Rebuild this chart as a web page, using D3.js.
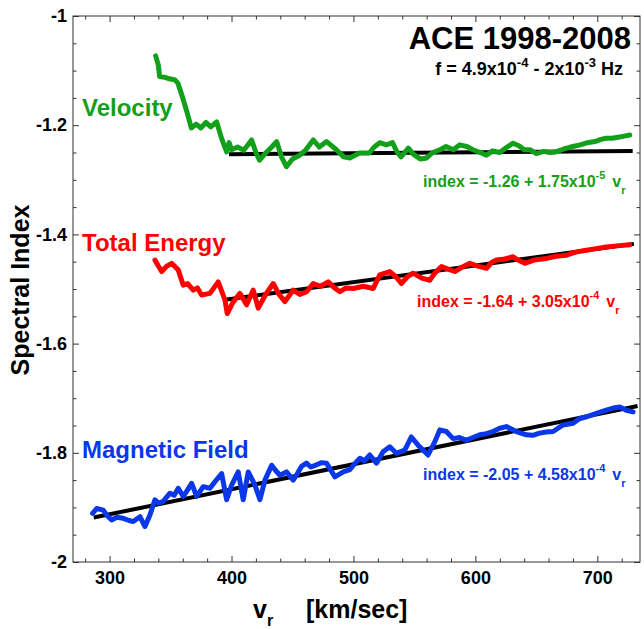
<!DOCTYPE html>
<html>
<head>
<meta charset="utf-8">
<script src="https://cdn.jsdelivr.net/npm/d3@7"></script>
<style>
  body { margin: 0; background: #fff; }
  text { font-family: "Liberation Sans", Arial, Helvetica, sans-serif; font-weight: bold; }
</style>
</head>
<body>
<script>
// ---- data: [v_r (km/sec), spectral index] ----
var velocity = [
  [337.8,-1.073],[340,-1.09],[341,-1.111],[345,-1.112],[349,-1.115],[353.6,-1.117],[356,-1.123],
  [360,-1.15],[364,-1.18],[367,-1.205],[371,-1.198],[375,-1.205],[379,-1.195],[383,-1.203],
  [387.8,-1.194],[392,-1.225],[396,-1.249],[398,-1.232],[400,-1.245],[405,-1.24],[410,-1.246],
  [416.5,-1.227],[420,-1.25],[423,-1.264],[428.8,-1.249],[433,-1.24],[437,-1.23],[441,-1.258],
  [445,-1.276],[450,-1.262],[456,-1.255],[461,-1.245],[467,-1.227],[472,-1.24],[478,-1.23],
  [486,-1.245],[492,-1.258],[497,-1.26],[505,-1.251],[513,-1.251],[517,-1.24],[521.6,-1.232],
  [527,-1.236],[532,-1.232],[536,-1.25],[539,-1.258],[545,-1.242],[549,-1.253],[555,-1.262],
  [560,-1.26],[565,-1.25],[571,-1.245],[576,-1.239],[582,-1.245],[587,-1.236],[593,-1.239],
  [598,-1.245],[604,-1.25],[609,-1.255],[614,-1.247],[620,-1.25],[626,-1.24],[631,-1.233],
  [636,-1.238],[640,-1.245],[645,-1.245],[650,-1.252],[656,-1.248],[661,-1.25],[666,-1.249],
  [672,-1.244],[678,-1.24],[686,-1.236],[692,-1.232],[698,-1.23],[703,-1.226],[707,-1.224],
  [712,-1.224],[717,-1.222],[722,-1.22],[726.6,-1.218]
];
var energy = [
  [337.2,-1.447],[340,-1.458],[342.7,-1.468],[347,-1.458],[350.9,-1.453],[356.3,-1.465],
  [360.4,-1.493],[364,-1.49],[368.6,-1.502],[372,-1.498],[375.5,-1.511],[382.3,-1.508],
  [389.1,-1.487],[394.6,-1.52],[396.5,-1.545],[401,-1.525],[406.9,-1.508],[412.4,-1.529],
  [417.8,-1.502],[421.9,-1.535],[428,-1.51],[434.2,-1.49],[439,-1.51],[443.8,-1.523],
  [450.6,-1.502],[456,-1.51],[461.6,-1.505],[467,-1.49],[473,-1.495],[479.3,-1.487],
  [484,-1.497],[488.9,-1.505],[494,-1.498],[499.8,-1.499],[508,-1.495],[516.2,-1.499],
  [521.6,-1.474],[529.8,-1.468],[535,-1.478],[539.3,-1.49],[544,-1.478],[548.9,-1.471],
  [556,-1.48],[562.6,-1.484],[567,-1.47],[572.2,-1.459],[577,-1.463],[583.1,-1.468],
  [589,-1.46],[595.4,-1.453],[602,-1.458],[609.1,-1.462],[613,-1.452],[617.2,-1.447],
  [624,-1.445],[630.9,-1.441],[635,-1.447],[640.5,-1.453],[648,-1.447],[658.3,-1.444],
  [666,-1.44],[674.6,-1.438],[683,-1.432],[691,-1.429],[699,-1.426],[707.4,-1.423],
  [716,-1.421],[726.6,-1.419]
];
var magnetic = [
  [286.1,-1.911],[289.4,-1.902],[294.8,-1.905],[298,-1.915],[301.7,-1.923],[306,-1.918],
  [311.2,-1.92],[316,-1.924],[319.4,-1.926],[324.9,-1.917],[329,-1.935],[333.1,-1.914],
  [337.2,-1.886],[340,-1.892],[344,-1.889],[349.5,-1.874],[353,-1.878],[356.3,-1.865],
  [360.4,-1.88],[364,-1.868],[367.3,-1.856],[371.4,-1.88],[376.8,-1.862],[382.3,-1.865],
  [386.4,-1.853],[391.9,-1.838],[396,-1.886],[400.1,-1.859],[405.5,-1.835],[409.6,-1.886],
  [413.7,-1.835],[419.2,-1.859],[423.3,-1.886],[427.4,-1.85],[432.9,-1.823],[436,-1.832],
  [439.7,-1.841],[445.1,-1.835],[450.6,-1.85],[454,-1.838],[457.4,-1.825],[461.5,-1.819],
  [465,-1.826],[469.7,-1.822],[474,-1.818],[477.9,-1.819],[484.8,-1.844],[491.6,-1.835],
  [497,-1.831],[501,-1.82],[505.3,-1.81],[509,-1.815],[513.4,-1.804],[518.9,-1.819],
  [524.3,-1.798],[529.8,-1.789],[535.2,-1.801],[542.1,-1.795],[547.5,-1.771],[553,-1.786],
  [557,-1.795],[561.2,-1.804],[566.7,-1.78],[570.8,-1.758],[576.2,-1.761],[581.7,-1.774],
  [587,-1.772],[592.6,-1.777],[598,-1.772],[603.6,-1.767],[609,-1.765],[614.5,-1.761],
  [620,-1.755],[625.4,-1.752],[633.6,-1.761],[641.9,-1.767],[647,-1.768],[652.8,-1.764],
  [658,-1.762],[663.7,-1.761],[671.9,-1.749],[680.1,-1.746],[685,-1.738],[691,-1.734],
  [699.2,-1.728],[707.4,-1.722],[713,-1.718],[718.4,-1.716],[723.8,-1.722],[729.3,-1.725]
];
// linear fits: index = a + b * v, drawn over [from, to]
var fitNames = ["Velocity", "Total Energy", "Magnetic Field"];
var fitA = [-1.26, -1.64, -2.05];
var fitB = [1.75e-5, 3.05e-4, 4.58e-4];
var fitFrom = [398, 396, 287];
var fitTo = [729, 730, 733];
var fitLabels = [["-1.26", "1.75", "-5"], ["-1.64", "3.05", "-4"], ["-2.05", "4.58", "-4"]];

var xMajor = [300, 400, 500, 600, 700];
var yMajor = [-2, -1.8, -1.6, -1.4, -1.2, -1];
var yTickLabels = ["-2", "-1.8", "-1.6", "-1.4", "-1.2", "-1"];

var colors = ["#12a01a", "#ff0000", "#0a38e8"];

var svg = d3.select("body").append("svg")
  .attr("width", 644)
  .attr("height", 629);

var margin = {top: 16, right: 4, bottom: 67, left: 73},
  width = 644 - margin.left - margin.right,
  height = 629 - margin.top - margin.bottom,
  g = svg.append("g").attr("transform", "translate(" + margin.left + "," + margin.top + ")");

var x = d3.scaleLinear().domain([270, 735]).range([0, width]);
var y = d3.scaleLinear().domain([-2, -1]).range([height, 0]);

var xMinor = d3.range(280, 735, 20).filter(function(d) { return d % 100 != 0; });
var yMinor = d3.range(-1.95, -1, 0.05).filter(function(d) { return Math.abs(d * 5 - Math.round(d * 5)) > 1e-6; });

function styleAxis(sel) {
  sel.select(".domain").remove();
  sel.selectAll("line").attr("stroke", "#333").attr("stroke-width", 1);
  sel.selectAll("text").attr("font-size", 18).attr("fill", "#000")
    .style("font-family", "'Liberation Sans', Arial, sans-serif").style("font-weight", "bold");
}

// bottom + left with labels, ticks inside
g.append("g").attr("transform", "translate(0," + height + ")")
  .call(d3.axisBottom(x).tickValues(xMajor).tickSize(-6).tickPadding(9).tickFormat(d3.format("d")))
  .call(styleAxis);
g.append("g").attr("transform", "translate(0," + height + ")")
  .call(d3.axisBottom(x).tickValues(xMinor).tickSize(-3.5).tickFormat(""))
  .call(styleAxis);
g.append("g")
  .call(d3.axisLeft(y).tickValues(yMajor).tickSize(-6).tickPadding(6)
    .tickFormat(function(d, i) { return yTickLabels[i]; }))
  .call(styleAxis);
g.append("g")
  .call(d3.axisLeft(y).tickValues(yMinor).tickSize(-3.5).tickFormat(""))
  .call(styleAxis);
// top + right mirrored ticks
g.append("g").call(d3.axisTop(x).tickValues(xMajor).tickSize(-6).tickFormat("")).call(styleAxis);
g.append("g").call(d3.axisTop(x).tickValues(xMinor).tickSize(-3.5).tickFormat("")).call(styleAxis);
g.append("g").attr("transform", "translate(" + width + ",0)")
  .call(d3.axisRight(y).tickValues(yMajor).tickSize(-6).tickFormat("")).call(styleAxis);
g.append("g").attr("transform", "translate(" + width + ",0)")
  .call(d3.axisRight(y).tickValues(yMinor).tickSize(-3.5).tickFormat("")).call(styleAxis);

g.append("rect")
  .attr("width", width).attr("height", height)
  .attr("fill", "none").attr("stroke", "#333").attr("stroke-width", 1);

var line = d3.line()
  .x(function(d) { return x(d[0]); })
  .y(function(d) { return y(d[1]); });

// fit lines
fitA.forEach(function(a, i) {
  var pts = [[fitFrom[i], a + fitB[i] * fitFrom[i]], [fitTo[i], a + fitB[i] * fitTo[i]]];
  g.append("path").datum(pts)
    .attr("d", line)
    .attr("fill", "none")
    .attr("stroke", "#000")
    .attr("stroke-width", 4);
});

// data curves
[velocity, energy, magnetic].forEach(function(s, i) {
  g.append("path").datum(s)
    .attr("d", line)
    .attr("fill", "none")
    .attr("stroke", colors[i])
    .attr("stroke-width", 5)
    .attr("stroke-linejoin", "round")
    .attr("stroke-linecap", "round");
});

// series names
var nameY = [116, 251, 458];
fitNames.forEach(function(n, i) {
  svg.append("text")
    .attr("x", 82).attr("y", nameY[i])
    .attr("font-size", 24)
    .attr("fill", colors[i])
    .text(n);
});

// fit equations
var eqX = [423, 417, 423], eqY = [187, 307, 480];
fitLabels.forEach(function(l, i) {
  var t = svg.append("text")
    .attr("x", eqX[i]).attr("y", eqY[i])
    .attr("font-size", 16)
    .attr("fill", colors[i]);
  t.append("tspan").text("index = " + l[0] + " + " + l[1] + "x10");
  t.append("tspan").attr("dy", -8).attr("font-size", 11).text(l[2]);
  t.append("tspan").attr("dy", 8).attr("dx", 7).text("v");
  t.append("tspan").attr("dy", 7).attr("font-size", 11).text("r");
});

// title
svg.append("text")
  .attr("x", 631).attr("y", 49)
  .attr("text-anchor", "end")
  .attr("font-size", 31)
  .text("ACE 1998-2008");
var sub = svg.append("text")
  .attr("x", 623).attr("y", 75)
  .attr("text-anchor", "end")
  .attr("font-size", 18);
sub.append("tspan").text("f = 4.9x10");
sub.append("tspan").attr("dy", -8).attr("font-size", 13).text("-4");
sub.append("tspan").attr("dy", 8).text(" - 2x10");
sub.append("tspan").attr("dy", -8).attr("font-size", 13).text("-3");
sub.append("tspan").attr("dy", 8).text(" Hz");

// axis titles
svg.append("text")
  .attr("transform", "translate(29,290) rotate(-90)")
  .attr("text-anchor", "middle")
  .attr("font-size", 25)
  .text("Spectral Index");

var xl = svg.append("text")
  .attr("x", 253).attr("y", 618)
  .attr("font-size", 25);
xl.append("tspan").text("v");
xl.append("tspan").attr("dy", 8).attr("font-size", 16).text("r");
xl.append("tspan").attr("x", 306).attr("dy", -8).text("[km/sec]");
</script>
</body>
</html>
